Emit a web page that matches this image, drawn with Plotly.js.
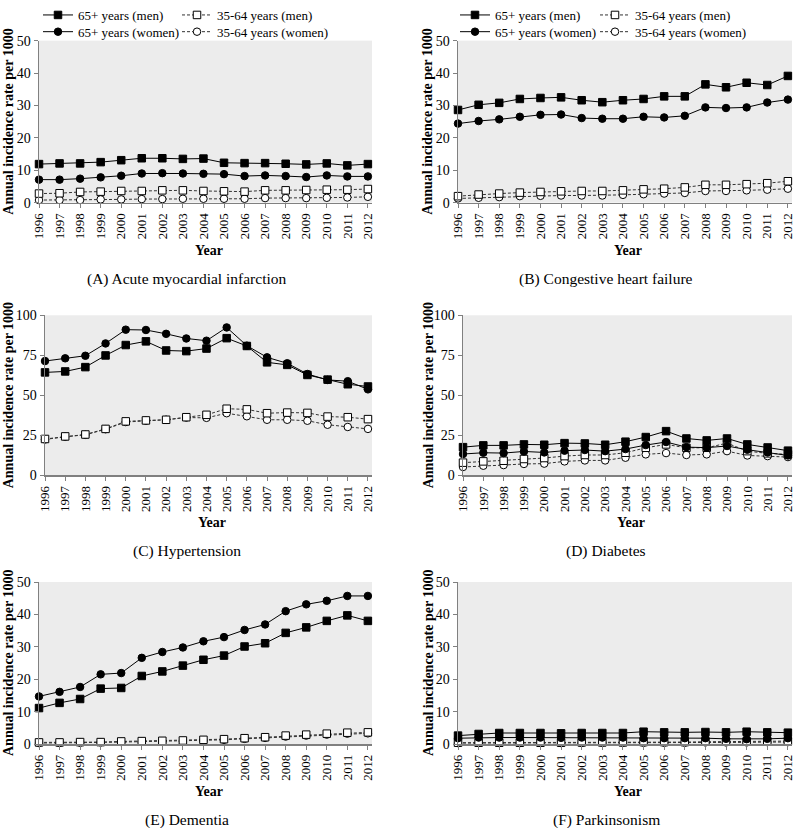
<!DOCTYPE html>
<html>
<head>
<meta charset="utf-8">
<script src="https://cdn.plot.ly/plotly-3.0.1.min.js"></script>
<style>html,body{margin:0;padding:0;background:#fff;}#chart{width:794px;height:828px;}</style>
</head>
<body>
<div id="chart"></div>
<script>
const years = [1996,1997,1998,1999,2000,2001,2002,2003,2004,2005,2006,2007,2008,2009,2010,2011,2012];
const seriesNames = ["65+ years (men)", "35-64 years (men)", "65+ years (women)", "35-64 years (women)"];
const panelTitles = ["(A) Acute myocardial infarction", "(B) Congestive heart failure", "(C) Hypertension", "(D) Diabetes", "(E) Dementia", "(F) Parkinsonism"];
const yTitle = "Annual incidence rate per 1000";
const xTitle = "Year";

// (A) Acute myocardial infarction
const amiMen65   = [11.9,12.1,12.1,12.5,13.1,13.7,13.7,13.5,13.6,12.3,12.2,12.2,12.0,11.8,12.1,11.5,11.9];
const amiWomen65 = [7.1,7.1,7.4,7.8,8.3,9.0,9.1,9.0,8.9,8.8,8.2,8.4,8.2,7.9,8.4,8.1,8.1];
const amiMen35   = [2.8,2.9,3.3,3.4,3.6,3.6,3.8,3.8,3.6,3.5,3.4,3.8,3.8,3.9,4.0,4.0,4.2];
const amiWomen35 = [0.8,0.8,0.8,1.0,1.0,1.1,1.1,1.2,1.2,1.2,1.2,1.4,1.4,1.4,1.5,1.6,1.8];
// (B) Congestive heart failure
const chfMen65   = [28.6,30.2,30.8,32.0,32.3,32.5,31.6,31.0,31.6,32.0,32.8,32.8,36.5,35.6,37.0,36.3,39.1];
const chfWomen65 = [24.4,25.2,25.7,26.5,27.1,27.2,26.1,25.9,25.9,26.5,26.3,26.8,29.4,29.2,29.4,30.9,31.8];
const chfMen35   = [2.0,2.5,2.8,3.1,3.3,3.5,3.6,3.6,3.8,4.1,4.3,4.7,5.5,5.5,5.7,6.0,6.6];
const chfWomen35 = [1.3,1.5,1.7,2.0,2.1,2.2,2.2,2.2,2.4,2.6,2.8,3.0,3.6,3.6,3.8,4.0,4.3];
// (C) Hypertension
const htnMen65   = [64.3,64.9,67.6,74.9,81.4,83.7,78.0,77.6,79.2,85.7,80.8,70.6,69.0,62.7,59.8,56.9,55.5];
const htnWomen65 = [71.4,73.1,74.7,82.4,91.0,90.8,88.4,85.5,84.1,92.4,81.0,73.7,70.0,63.3,59.6,58.8,53.7];
const htnMen35   = [22.7,24.3,25.5,29.0,33.7,34.3,34.7,36.3,37.8,41.6,41.2,38.8,39.2,39.0,36.7,36.3,35.1];
const htnWomen35 = [22.4,24.1,25.3,28.8,33.3,34.1,34.7,36.1,35.9,38.8,36.9,34.7,34.7,34.1,31.6,30.2,29.0];
// (D) Diabetes
const dmMen65    = [17.6,18.7,18.7,19.3,19.1,20.1,19.9,19.1,21.0,23.9,27.6,23.0,21.8,23.0,19.3,17.4,15.4];
const dmWomen65  = [13.3,14.1,13.9,14.9,14.3,15.4,15.8,15.1,16.4,18.9,20.8,17.6,17.3,18.3,16.0,14.3,12.4];
const dmMen35    = [7.9,8.7,9.1,10.2,10.8,12.0,12.7,12.7,14.1,17.2,19.3,17.2,17.2,20.1,15.1,13.7,13.1];
const dmWomen35  = [5.2,6.0,6.4,7.1,7.3,8.7,9.3,9.3,11.0,13.1,13.9,12.7,13.1,15.1,12.4,12.0,11.4];
// (E) Dementia
const demMen65   = [11.1,12.7,13.9,17.1,17.3,21.0,22.4,24.2,26.0,27.3,30.1,31.1,34.3,36.0,38.0,39.7,38.0];
const demWomen65 = [14.7,16.1,17.6,21.5,21.9,26.6,28.4,29.8,31.7,33.0,35.2,36.9,41.0,43.1,44.2,45.7,45.7];
const demMen35   = [0.5,0.5,0.6,0.6,0.8,0.9,1.0,1.1,1.3,1.5,1.8,2.1,2.6,2.9,3.2,3.5,3.6];
const demWomen35 = [0.3,0.3,0.4,0.5,0.6,0.7,0.8,0.9,1.1,1.3,1.6,1.9,2.3,2.6,2.9,3.2,3.3];
// (F) Parkinsonism
const pkMen65    = [2.6,3.1,3.4,3.4,3.4,3.3,3.4,3.4,3.4,3.8,3.6,3.6,3.7,3.6,3.8,3.6,3.5];
const pkWomen65  = [1.8,2.0,2.0,2.0,2.0,1.9,2.0,2.0,2.0,1.8,1.8,1.8,1.8,1.6,1.5,1.6,1.8];
const pkMen35    = [0.4,0.4,0.4,0.4,0.4,0.4,0.5,0.5,0.5,0.6,0.6,0.6,0.7,0.7,0.8,0.9,0.9];
const pkWomen35  = [0.3,0.3,0.3,0.3,0.3,0.3,0.3,0.4,0.4,0.4,0.4,0.4,0.5,0.5,0.5,0.6,0.6];

const yRanges = [[0,50],[0,50],[0,100],[0,100],[0,50],[0,50]];
const yTicks = [[0,10,20,30,40,50],[0,10,20,30,40,50],[0,25,50,75,100],[0,25,50,75,100],[0,10,20,30,40,50],[0,10,20,30,40,50]];

const panels = [
  [amiMen65, amiMen35, amiWomen65, amiWomen35],
  [chfMen65, chfMen35, chfWomen65, chfWomen35],
  [htnMen65, htnMen35, htnWomen65, htnWomen35],
  [dmMen65, dmMen35, dmWomen65, dmWomen35],
  [demMen65, demMen35, demWomen65, demWomen35],
  [pkMen65, pkMen35, pkWomen65, pkWomen35]
];

// ---- layout geometry (px) ----
const W = 794, H = 828;
const FONT = "'Liberation Serif', 'Times New Roman', serif";
const colX = [[39,372],[458,792],[45,372],[463,792],[39,372],[458,792]];
const rowY = [[31,195],[31,195],[309,471],[309,471],[579,743],[579,743]];
const yTitleX = [9,428,8,428,8,428];
const captionX = [187,606,187,606,187,606];
const px = v => v / W;
const py = v => 1 - v / H;

const styles = [
  {symbol:'square', fill:'#000', dash:'solid', lc:'#000'},
  {symbol:'square', fill:'#fff', dash:'3px,2px', lc:'#333'},
  {symbol:'circle', fill:'#000', dash:'solid', lc:'#000'},
  {symbol:'circle', fill:'#fff', dash:'3px,2px', lc:'#333'}
];
const drawOrder = [3,1,2,0];
// one legend per entry: [panel][series]
const legendIds = [['legend','legend2','legend3','legend4'],['legend5','legend6','legend7','legend8']];
// text left x (px) per column and row y (px) for legend entries
const legTextX = [[78,217],[495,635]];
const legRowY = [5,22];

const traces = [];
const layout = {
  width: W, height: H,
  margin: {l:0, r:0, t:0, b:0},
  paper_bgcolor: '#fff',
  plot_bgcolor: '#ececec',
  font: {family: FONT, color: '#000', size: 13},
  showlegend: true,
  annotations: []
};

panels.forEach((series, p) => {
  const ax = p === 0 ? '' : String(p + 1);
  drawOrder.forEach(si => {
    const st = styles[si];
    const inLegend = p < 2;
    traces.push({
      type: 'scatter', mode: 'lines+markers',
      x: years, y: series[si],
      name: seriesNames[si],
      xaxis: 'x' + ax, yaxis: 'y' + ax,
      cliponaxis: false,
      line: {color: st.lc, width: 1, dash: st.dash},
      marker: {symbol: st.symbol, size: 7.5, color: st.fill, line: {color: '#000', width: 1}},
      showlegend: inLegend,
      legend: inLegend ? legendIds[p][si] : undefined,
      hoverinfo: 'x+y+name'
    });
  });
  layout['xaxis' + ax] = {
    domain: [px(colX[p][0]), px(colX[p][1])],
    anchor: 'y' + ax,
    range: [1996, 2012.2],
    tickvals: years,
    ticktext: years.map(String),
    tickangle: -90,
    ticklabeloverflow: 'allow',
    ticks: 'outside', ticklen: 4, tickwidth: 1, tickcolor: '#808080',
    showline: true, linecolor: '#808080', linewidth: 1.5,
    showgrid: false, zeroline: false,
    tickfont: {family: FONT, size: 13, color: '#000'}
  };
  layout['yaxis' + ax] = {
    domain: [py(rowY[p][1]), py(rowY[p][0])],
    anchor: 'x' + ax,
    range: yRanges[p],
    tickvals: yTicks[p],
    ticks: 'outside', ticklen: 4, tickwidth: 1, tickcolor: '#808080',
    showline: true, linecolor: '#808080', linewidth: 1.5,
    showgrid: false, zeroline: false,
    tickfont: {family: FONT, size: 14, color: '#000'}
  };
  const cy = (rowY[p][0] + rowY[p][1]) / 2;
  layout.annotations.push({
    xref: 'paper', yref: 'paper', x: px(yTitleX[p]), y: py(cy),
    xanchor: 'center', yanchor: 'middle', textangle: -90, showarrow: false,
    text: '<b>' + yTitle + '</b>', font: {family: FONT, size: 14, color: '#000'}
  });
  layout.annotations.push({
    xref: 'paper', yref: 'paper', x: px((colX[p][0] + colX[p][1]) / 2 + 3), y: py(rowY[p][1] + 48),
    xanchor: 'center', yanchor: 'middle', showarrow: false,
    text: '<b>' + xTitle + '</b>', font: {family: FONT, size: 14, color: '#000'}
  });
  layout.annotations.push({
    xref: 'paper', yref: 'paper', x: px(captionX[p]), y: py(rowY[p][1] + 77),
    xanchor: 'center', yanchor: 'middle', showarrow: false,
    text: panelTitles[p], font: {family: FONT, size: 15.5, color: '#000'}
  });
});

const legendBase = {
  orientation: 'v', xanchor: 'left', yanchor: 'middle',
  bgcolor: 'rgba(0,0,0,0)', borderwidth: 0,
  font: {family: FONT, size: 13, color: '#000'},
  itemwidth: 30, tracegroupgap: 0, itemclick: false, itemdoubleclick: false
};
[0,1].forEach(p => {
  [0,1,2,3].forEach(si => {
    const col = si % 2, row = si >= 2 ? 1 : 0;
    layout[legendIds[p][si]] = Object.assign({}, legendBase, {
      x: px(legTextX[p][col] - 40), y: py(legRowY[row])
    });
  });
});

Plotly.newPlot('chart', traces, layout, {displayModeBar: false, staticPlot: true});
</script>
</body>
</html>
